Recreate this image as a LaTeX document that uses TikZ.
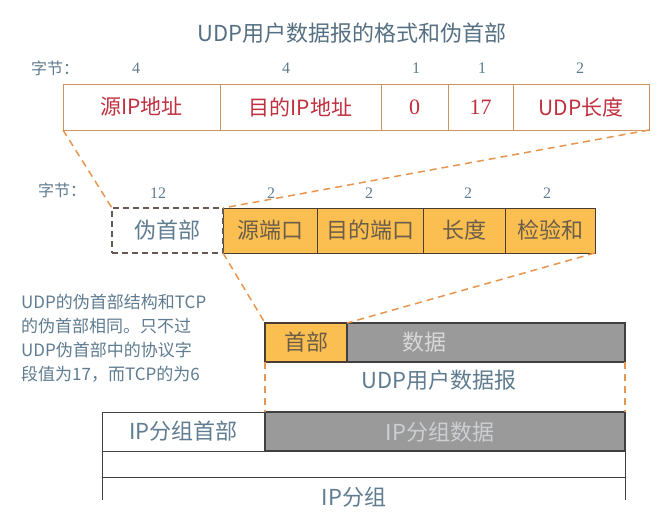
\documentclass[tikz,border=0pt]{standalone}
\usepackage{fontspec}
\setmainfont{Liberation Serif}
\newfontfamily\cjk{Noto Sans CJK SC}
\definecolor{edgeone}{HTML}{C9955F}
\definecolor{redtxt}{HTML}{C0303F}
\definecolor{slate}{HTML}{5F7C90}
\definecolor{orfill}{HTML}{FBBE50}
\definecolor{dkedge}{HTML}{4A3C32}
\definecolor{brtxt}{HTML}{6A5E4A}
\definecolor{grfill}{HTML}{9A9A9A}
\definecolor{dashor}{HTML}{E8964E}
\definecolor{lightt}{HTML}{D8D8D8}
\tikzset{
  cell/.style={anchor=north west, inner sep=0pt, outer sep=0pt},
  rowone/.style={cell, draw=edgeone, line width=1pt, text=redtxt, minimum height=46pt, font=\cjk\fontsize{21}{24}\selectfont},
  rowonenum/.style={rowone, font=\fontsize{22}{24}\selectfont},
  pseudo/.style={cell, draw=dkedge!85, dash pattern=on 6pt off 4pt, line width=1.5pt, text=slate, minimum height=45pt, font=\cjk\fontsize{22}{24}\selectfont},
  orcell/.style={cell, draw=dkedge, fill=orfill, line width=1pt, text=brtxt, minimum height=45pt, font=\cjk\fontsize{22}{24}\selectfont},
  hdcell/.style={cell, draw=dkedge, fill=orfill, line width=1.3pt, text=brtxt, minimum height=39pt, font=\cjk\fontsize{22}{24}\selectfont},
  gycell/.style={cell, draw=black!75, fill=grfill, line width=1.3pt, minimum height=39pt},
  whcell/.style={cell, draw=black!75, fill=white, line width=1pt, text=slate, minimum height=39pt, font=\cjk\fontsize{22}{24}\selectfont},
  lbl/.style={text=slate, inner sep=0pt, font=\fontsize{16}{18}\selectfont},
  lblcjk/.style={text=slate, inner sep=0pt, font=\cjk\fontsize{16}{18}\selectfont},
  bigt/.style={text=slate, inner sep=0pt, font=\cjk\fontsize{22}{24}\selectfont},
  orline/.style={draw=dashor, line width=1.5pt, dash pattern=on 7pt off 5pt},
  pline/.style={draw=black!75, line width=1pt}
}
\begin{document}
\begin{tikzpicture}[x=1pt,y=-1pt]
\useasboundingbox (0,0) rectangle (662,512);
\fill[white] (0,0) rectangle (662,512);

% title
\node[bigt, text=slate!90!black] (title) at (352,33) {UDP用户数据报的格式和伪首部};

% row 1 labels
\node[lblcjk] (b1) at (55,68) {字节：};
\node[lbl] (n11) at (136,68) {4};
\node[lbl] (n12) at (286,68) {4};
\node[lbl] (n13) at (416,68) {1};
\node[lbl] (n14) at (482,68) {1};
\node[lbl] (n15) at (580,68) {2};

% row 1
\node[rowone, minimum width=157pt] (srcip) at (63,84) {源IP地址};
\node[rowone, minimum width=161pt] (dstip) at (220,84) {目的IP地址};
\node[rowonenum, minimum width=67pt] (zero) at (381,84) {0};
\node[rowonenum, minimum width=65pt] (proto) at (448,84) {17};
\node[rowone, minimum width=136pt] (udplen) at (513,84) {UDP长度};

% row 2 labels
\node[lblcjk] (b2) at (62,190) {字节：};
\node[lbl] (n21) at (158,193) {12};
\node[lbl] (n22) at (271,193) {2};
\node[lbl] (n23) at (369,193) {2};
\node[lbl] (n24) at (468,193) {2};
\node[lbl] (n25) at (547,193) {2};

% row 2
\node[orcell, minimum width=94pt] (sport) at (223,208) {源端口};
\node[orcell, minimum width=106pt] (dport) at (317,208) {目的端口};
\node[orcell, minimum width=82pt] (len) at (423,208) {长度};
\node[orcell, minimum width=90pt] (chk) at (505,208) {检验和};
\node[pseudo, minimum width=111pt] (ph) at (112,208) {伪首部};

% connectors row1 -> row2
\draw[orline] (srcip.south west) -- (ph.north west);
\draw[orline] (udplen.south east) -- (sport.north west);

% row 3
\node[hdcell, minimum width=82pt] (hdr) at (265,323) {首部};
\node[gycell, minimum width=278pt] (data) at (347,323) {};
\node[bigt, text=lightt] (datat) at (424,342) {数据};
\node[bigt] (udpt) at (439,380) {UDP用户数据报};

\draw[orline] (sport.south west) -- (hdr.north west);
\draw[orline] (chk.south east) -- (hdr.north east);

% row 4
\node[whcell, minimum width=163pt] (iph) at (102,412) {IP分组首部};
\node[gycell, minimum width=360pt] (ipd) at (265,412) {};
\node[bigt, text=lightt!90!slate] (ipdt) at (440,432) {IP分组数据};

\draw[orline] (hdr.south west) -- (iph.north east);
\draw[orline] (data.south east) -- (ipd.north east);

% IP packet frame
\node[cell, draw=black!75, line width=1pt, minimum width=523pt, minimum height=26pt] (frame) at (102,451) {};
\coordinate (fl) at (102,500);
\coordinate (fr) at (625,500);
\draw[pline] (frame.south west) -- (fl);
\draw[pline] (frame.south east) -- (fr);
\node[bigt] (ipt) at (354,497) {IP分组};

% note
\node[lblcjk, font=\cjk\fontsize{17}{24}\selectfont, align=left, anchor=north west] (note) at (21,294) {UDP的伪首部结构和TCP\\的伪首部相同。只不过\\UDP伪首部中的协议字\\段值为17，而TCP的为6};
\end{tikzpicture}
\end{document}
